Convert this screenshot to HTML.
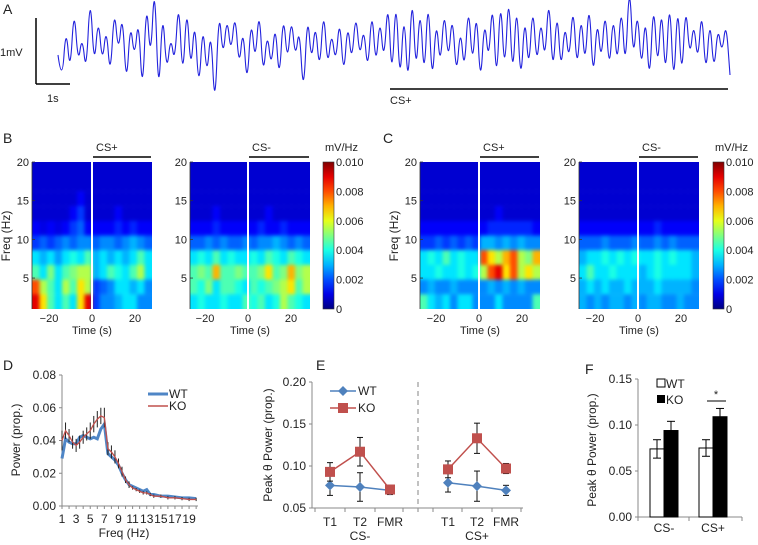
<!DOCTYPE html>
<html><head><meta charset="utf-8">
<style>
html,body{margin:0;padding:0;background:#fff;}
#wrap{position:relative;width:758px;height:545px;overflow:hidden;font-family:"Liberation Sans",Arial,sans-serif;}
.hmw{position:absolute;width:120px;height:147px;overflow:hidden;}
.hmw canvas{position:absolute;left:-8px;top:-8px;filter:blur(1.8px);}
svg{position:absolute;left:0;top:0;}
text{font-family:"Liberation Sans",Arial,sans-serif;fill:#222;}
</style></head>
<body>
<div id="wrap">
<div class="hmw" style="left:32px;top:162px"><canvas id="hmBL" width="136" height="163"></canvas></div>
<div class="hmw" style="left:190px;top:162px"><canvas id="hmBR" width="136" height="163"></canvas></div>
<div class="hmw" style="left:420px;top:162px"><canvas id="hmCL" width="136" height="163"></canvas></div>
<div class="hmw" style="left:579px;top:162px"><canvas id="hmCR" width="136" height="163"></canvas></div>
<svg id="svg" width="758" height="545"></svg>
</div>
<script>
// ---------- data ----------
const traceA = [-10,-40,20,-30,40,-20,10,-30,55,-25,30,-20,20,-35,40,-10,35,-45,25,-15,
30,-55,50,-20,70,-60,40,-30,10,-20,50,-40,45,-30,30,-50,25,-35,20,-70,
40,-15,30,-10,35,-25,20,-45,30,-20,40,-35,15,-25,25,-40,35,-20,30,-15,
20,-55,35,-20,25,-30,40,-25,15,-20,30,-35,25,-20,35,-15,20,-30,40,-25,
30,-20,
50,-40,55,-45,40,-50,60,-35,45,-40,55,-45,30,-25,40,-20,35,-35,20,-30,
45,-25,40,-45,30,-20,50,-45,55,-35,60,-40,50,-45,35,-30,45,-25,30,-20,
55,-35,40,-30,25,-20,45,-30,35,-25,50,-40,30,-20,40,-30,35,-25,45,-30,
70,-20,40,-30,35,-45,50,-30,45,-40,55,-50,50,-40,45,-15,25,-20,40,-35,
30,-30,20,-10,25,-30];

const specBL = [
[0.8,0.8,0.8,0.8,0.8,0.8,0.8,0.8,0.8,0.8,0.8,0.8,0.8,0.8,0.8,0.8],
[0.8,0.8,0.8,0.8,0.8,0.8,0.8,0.8,0.8,0.8,0.8,0.8,0.8,0.8,0.8,0.8],
[0.8,0.8,0.8,0.8,0.8,0.8,1.2,0.8,0.8,0.8,0.8,0.8,0.8,0.8,0.8,0.8],
[0.8,0.8,0.8,0.8,0.8,1.2,1.8,0.8,0.8,0.8,0.8,1.2,0.8,0.8,0.8,0.8],
[1.2,1,1.2,1,1.2,1.8,2.2,1.2,1.2,1.2,1.2,1.6,1.2,1.6,1.2,1.2],
[1.8,2.2,1.8,2.2,2.6,2.2,2.6,2.6,2.2,2.6,2.6,2.2,2.6,3,2.6,2.2],
[3.5,3,3.5,2.8,3.5,4,3.5,4.5,3,3.5,3,3.5,3,3.5,4.5,3.5],
[4.5,3.5,5,3.5,4.5,5,5.5,5.5,3,3.5,4.5,4,3.5,4.5,5.5,3.5],
[8,5.5,4.5,3.5,5.5,4.5,6.5,5.5,1.8,2.2,2.6,3.5,3.5,3,3.5,2.6],
[9,6.5,4.5,3.5,4.5,3.5,6.5,9,1.8,2.6,2.6,3,3.5,3.5,2.6,2.6]];
const specBR = [
[0.8,0.8,0.8,0.8,0.8,0.8,0.8,0.8,0.8,0.8,0.8,0.8,0.8,0.8,0.8,0.8],
[0.8,0.8,0.8,0.8,0.8,0.8,0.8,0.8,0.8,0.8,0.8,0.8,0.8,0.8,0.8,0.8],
[0.8,0.8,0.8,0.8,0.8,0.8,0.8,0.8,0.8,0.8,0.8,0.8,0.8,0.8,0.8,0.8],
[0.8,0.8,0.8,1.2,0.8,0.8,0.8,0.8,0.8,0.8,1.2,0.8,0.8,0.8,0.8,0.8],
[1.2,1.2,1.2,1.6,1.2,1.2,1.2,1.2,1.2,1.6,1.2,1.2,1.6,1.2,1.2,1.2],
[2.2,2.2,2.6,2.2,2.6,2.2,2.2,2.6,2.2,2.6,2.6,3,2.6,2.2,2.6,2.2],
[3.5,4,3.5,4.5,3.5,4,3.5,3.5,4,3.5,4.5,4,3.5,4.5,4,3.5],
[4.5,5,4.5,7,4.5,4.5,5,4.5,4.5,5,6.5,4.5,5,7,5,5.5],
[4.5,4,5,3.5,4.5,4.5,4,3.5,4.5,4,4.5,5,5.5,6.5,4.5,5.5],
[3.5,4,3.5,3.5,4,3.5,3.5,4.5,4,4.5,3.5,4,5.5,4.5,4,3.5]];
const specCL = [
[0.8,0.8,0.8,0.8,0.8,0.8,0.8,0.8,0.8,0.8,0.8,0.8,0.8,0.8,0.8,0.8],
[0.8,0.8,0.8,0.8,0.8,0.8,0.8,0.8,0.8,0.8,0.8,0.8,0.8,0.8,0.8,0.8],
[0.8,0.8,0.8,0.8,0.8,0.8,0.8,0.8,0.8,0.8,0.8,0.8,0.8,0.8,0.8,0.8],
[0.8,0.8,0.8,0.8,0.8,0.8,0.8,0.8,0.8,0.8,1.2,0.8,0.8,0.8,0.8,0.8],
[1.2,1.2,1.2,1.2,1.2,1.2,1.2,1.2,1.2,1.6,1.6,1.6,1.6,1.6,1.6,1.2],
[1.8,1.8,2.2,1.8,2.2,1.8,2.2,1.8,3,3,2.6,3,2.6,3,2.6,2.6],
[3.5,4,3.5,4.5,3.5,4,3.5,3.5,8,6.5,5.5,7,8,5.5,5,7],
[3.5,3.5,4,3.5,3.5,4,3.5,4,5.5,8,9,6.5,8,5.5,6.5,5.5],
[2.6,3,2.6,2.6,3,2.6,2.6,2.6,2.6,3,2.6,3,2.6,3,2.6,2.6],
[4.5,3.5,3,3.5,2.6,3.5,3.5,2.6,2.6,2.6,3.5,2.6,2.6,2.6,2.6,4.5]];
const specCR = [
[0.8,0.8,0.8,0.8,0.8,0.8,0.8,0.8,0.8,0.8,0.8,0.8,0.8,0.8,0.8,0.8],
[0.8,0.8,0.8,0.8,0.8,0.8,0.8,0.8,0.8,0.8,0.8,0.8,0.8,0.8,0.8,0.8],
[0.8,0.8,0.8,0.8,0.8,0.8,0.8,0.8,0.8,0.8,0.8,0.8,0.8,0.8,0.8,0.8],
[0.8,0.8,0.8,0.8,0.8,0.8,0.8,0.8,0.8,0.8,0.8,0.8,0.8,0.8,0.8,0.8],
[1.2,1.2,1.2,1.2,1.2,1.2,1.2,1.2,1.2,1.2,1.6,1.2,1.2,1.2,1.2,1.2],
[2.2,2.2,2.2,2.6,2.2,2.2,2.2,2.6,2.2,2.2,2.6,2.2,2.6,2.2,2.2,2.2],
[3,3.5,3.5,4,3.5,4,3.5,4,3.5,3.5,4,3.5,4,3.5,3.5,3],
[3.5,4.5,3.5,3.5,4,3.5,3.5,3.5,3,3.5,4,3.5,3.5,3.5,3.5,3],
[3,3.5,3,3.5,3,3,3.5,3,3,3,3.5,3,3,3,3,2.6],
[3,2.6,3,2.6,3,3,2.6,3,2.6,3,3,2.6,2.6,3,2.6,2.6]];

const freqD = [1,1.5,2,2.5,3,3.5,4,4.5,5,5.5,6,6.5,7,7.5,8,8.5,9,9.5,10,10.5,11,11.5,12,12.5,13,13.5,14,15,16,17,18,19,20];
const wtD = [0.029,0.041,0.039,0.038,0.038,0.042,0.043,0.042,0.041,0.042,0.041,0.047,0.050,0.032,0.030,0.028,0.025,0.020,0.016,0.013,0.012,0.011,0.010,0.009,0.010,0.007,0.007,0.006,0.006,0.0055,0.005,0.005,0.0045];
const koD = [0.040,0.046,0.043,0.039,0.037,0.039,0.042,0.044,0.046,0.050,0.053,0.055,0.054,0.035,0.033,0.030,0.026,0.021,0.016,0.013,0.011,0.010,0.009,0.008,0.008,0.007,0.006,0.006,0.005,0.005,0.0045,0.004,0.004];
const koErrD = [0.006,0.005,0.004,0.004,0.004,0.004,0.004,0.004,0.005,0.005,0.005,0.005,0.006,0.004,0.004,0.004,0.003,0.003,0.002,0.002,0.001,0.001,0.001,0.001,0.001,0.001,0.001,0.001,0.001,0.001,0.001,0.001,0.001];
const yTicksD = ["0.00","0.02","0.04","0.06","0.08"];
const xTicksD = [1,3,5,7,9,11,13,15,17,19];

const catsE = ["T1","T2","FMR"];
const wtCSm = [0.077,0.075,0.071], wtCSmErr = [0.012,0.017,0.005];
const koCSm = [0.093,0.117,0.072], koCSmErr = [0.011,0.017,0.005];
const wtCSp = [0.080,0.076,0.071], wtCSpErr = [0.011,0.018,0.006];
const koCSp = [0.096,0.133,0.097], koCSpErr = [0.010,0.018,0.006];
const yTicksE = ["0.05","0.10","0.15","0.20"];

const catsF = ["CS-","CS+"];
const wtF = [0.074,0.075], wtFErr = [0.010,0.009];
const koF = [0.094,0.109], koFErr = [0.010,0.009];
const yTicksF = ["0.00","0.05","0.10","0.15"];

// ---------- helpers ----------
const svg = document.getElementById('svg');
const NS = 'http://www.w3.org/2000/svg';
function el(tag, attrs, parent){ const e=document.createElementNS(NS,tag); for(const k in attrs) e.setAttribute(k,attrs[k]); (parent||svg).appendChild(e); return e; }
function txt(x,y,s,size,anchor,name,rot){ const t=el('text',{x:x,y:y,'font-size':size||12,'text-anchor':anchor||'start'}); if(rot) t.setAttribute('transform','rotate(-90 '+x+' '+y+')'); t.textContent=s;


return t; }
function line(x1,y1,x2,y2,stroke,w,name,dash){ const l=el('line',{x1:x1,y1:y1,x2:x2,y2:y2,stroke:stroke,'stroke-width':w||1}); if(dash) l.setAttribute('stroke-dasharray',dash);


return l; }
function jet(v){ v=Math.max(0,Math.min(1,v));
 const r=Math.min(Math.max(Math.min(4*v-1.5,-4*v+4.5),0),1);
 const g=Math.min(Math.max(Math.min(4*v-0.5,-4*v+3.5),0),1);
 const b=Math.min(Math.max(Math.min(4*v+0.5,-4*v+2.5),0),1);
 return 'rgb('+Math.round(r*255)+','+Math.round(g*255)+','+Math.round(b*255)+')'; }

// ---------- Panel A ----------
txt(3,14,'A',14,'start','panel-a-label');
line(36,18,36,84,'#000',1.5,'scale-bar-vertical');
line(36,84,70,84,'#000',1.5,'scale-bar-horizontal');
txt(0,56,'1mV',11,'start','scale-mv-label');
txt(47,102,'1s',11,'start','scale-s-label');
(function(){ const x0=58,x1=730, step=(x1-x0)/(traceA.length-1), yc=45, k=1.0;
 const pts=traceA.map((v,i)=>[x0+i*step, yc-v*k]);
 let d='M'+pts[0][0].toFixed(1)+','+pts[0][1].toFixed(1);
 for(let i=1;i<pts.length-1;i++){ const mx=(pts[i][0]+pts[i+1][0])/2, my=(pts[i][1]+pts[i+1][1])/2;
  d+='Q'+pts[i][0].toFixed(1)+','+pts[i][1].toFixed(1)+' '+mx.toFixed(1)+','+my.toFixed(1); }
 d+='L'+pts[pts.length-1][0].toFixed(1)+','+pts[pts.length-1][1].toFixed(1);
 const p=el('path',{d:d,fill:'none',stroke:'#2222dd','stroke-width':1.1});
 
 
})();
line(390,89,728,89,'#000',1.5,'cs-plus-bar-a');
txt(390,104,'CS+',11,'start','cs-plus-label-a');

// ---------- Spectrograms ----------
function drawHM(id,data){ const c=document.getElementById(id).getContext('2d'); const rows=data.length, cols=data[0].length;
 const cw=120/cols, ch=147/rows, off=8;
 for(let r=-1;r<=rows;r++) for(let j=-1;j<=cols;j++){
  const rr=Math.max(0,Math.min(rows-1,r)), jj=Math.max(0,Math.min(cols-1,j));
  c.fillStyle=jet(data[rr][jj]/10); c.fillRect(off+j*cw,off+r*ch,cw+0.5,ch+0.5); } }
drawHM('hmBL',specBL); drawHM('hmBR',specBR); drawHM('hmCL',specCL); drawHM('hmCR',specCR);
function specAxes(x0,zeroX,showY,barLabel){
 const top=162,bot=309;
 const fy=f=>top+(20-f)*(bot-top)/19;
 [20,15,10,5].forEach(f=>{ txt(x0-3,fy(f)+4,String(f),11,'end','freq-tick'); line(x0,fy(f),x0+3,fy(f),'#333',0.8,'freq-tick-mark'); });
 line(x0,top,x0,bot,'#333',0.8,'freq-axis');
 line(zeroX,top,zeroX,bot,'#fff',2,'stimulus-onset-line');
 const tx=t=>zeroX+t*2.15;
 [-20,0,20].forEach(t=>txt(tx(t),322,t<0?'\u221220':String(t),11,'middle','time-tick'));
 txt(x0+60,334,'Time (s)',11,'middle','time-axis-title');
 if(showY) txt(x0-22,236,'Freq (Hz)',12,'middle','freq-axis-title',true);
 line(zeroX+1,157,x0+119,157,'#000',1.6,'cs-bar');
 txt(zeroX+4,151,barLabel,11,'start','cs-bar-label');
}
txt(3,143,'B',14,'start','panel-b-label');
txt(383,143,'C',14,'start','panel-c-label');
specAxes(32,92,true,'CS+'); specAxes(190,248,false,'CS-');
specAxes(420,479,true,'CS+'); specAxes(579,638,false,'CS-');
function colorbar(x){ const g=el('defs',{}); const lg=el('linearGradient',{id:'cb'+x,x1:0,y1:1,x2:0,y2:0},g);
 for(let i=0;i<=10;i++){ el('stop',{offset:i/10,'stop-color':jet(i/10)},lg); }
 const r=el('rect',{x:x,y:162,width:11,height:147,fill:'url(#cb'+x+')',stroke:'#333','stroke-width':0.6});
 
 
 ['0','0.002','0.004','0.006','0.008','0.010'].forEach((s,i)=>txt(x+13,309-i*29.4+4,s,11,'start','colorbar-tick'));
 txt(x+2,151,'mV/Hz',11,'start','colorbar-unit');
}
colorbar(323); colorbar(713);

// ---------- Panel D ----------
txt(3,370,'D',14,'start','panel-d-label');
(function(){ const x0=62, top=375, bot=506;
 const xs=f=>x0+(f-1)*7.06, ys=v=>bot-v/0.08*(bot-top);
 line(x0,top,x0,bot,'#888',1,'d-y-axis'); line(x0,bot,198,bot,'#888',1,'d-x-axis');
 yTicksD.forEach((s,i)=>{ const y=ys(i*0.02); txt(x0-6,y+4,s,12,'end','d-y-tick'); line(x0-3,y,x0,y,'#888',1,'d-y-tick-mark'); });
 xTicksD.forEach(f=>txt(xs(f),523,String(f),12,'middle','d-x-tick'));
 for(let f=1;f<=20;f++) line(xs(f),bot,xs(f),bot+3,'#888',1,'d-x-tick-mark');
 txt(x0+62,537,'Freq (Hz)',12,'middle','d-x-title');
 txt(20,440,'Power (prop.)',12,'middle','d-y-title',true);
 let dw='',dk='';
 freqD.forEach((f,i)=>{ dw+=(i?'L':'M')+xs(f)+','+ys(wtD[i]); dk+=(i?'L':'M')+xs(f)+','+ys(koD[i]); });
 const pw=el('path',{d:dw,fill:'none',stroke:'#4f86c6','stroke-width':3});
  
 freqD.forEach((f,i)=>line(xs(f),ys(koD[i]-koErrD[i]),xs(f),ys(koD[i]+koErrD[i]),'#222',1,'ko-error-bar'));
 const pk=el('path',{d:dk,fill:'none',stroke:'#c0504d','stroke-width':1.3});
  
 line(148,394,168,394,'#4f86c6',3,'legend-wt-line'); txt(169,398,'WT',12,'start','legend-wt');
 line(148,406,168,406,'#c0504d',1.5,'legend-ko-line'); txt(169,410,'KO',12,'start','legend-ko');
})();

// ---------- Panel E ----------
txt(316,370,'E',14,'start','panel-e-label');
(function(){ const x0=312, top=382, bot=508;
 const ys=v=>bot-(v-0.05)/0.15*(bot-top);
 const xm=[330,360,390], xp=[448,477,506];
 line(x0,top,x0,bot,'#888',1,'e-y-axis'); line(x0,bot,523,bot,'#888',1,'e-x-axis');
 yTicksE.forEach((s,i)=>{ const y=ys(0.05+i*0.05); txt(x0-6,y+4,s,12,'end','e-y-tick'); line(x0-3,y,x0,y,'#888',1,'e-y-tick-mark'); });
 [x0+3,345,375,403,433,462,492,521].forEach(x=>line(x,bot,x,bot+4,'#888',1,'e-x-tick-mark'));
 catsE.forEach((c,i)=>{ txt(xm[i],526,c,12,'middle','e-x-tick'); txt(xp[i],526,c,12,'middle','e-x-tick'); });
 txt(360,540,'CS-',12,'middle','e-group-csminus'); txt(477,540,'CS+',12,'middle','e-group-csplus');
 line(418,382,418,512,'#999',1.2,'e-divider','5,4');
 txt(272,445,'Peak \u03b8 Power (prop.)',12,'middle','e-y-title',true);
 function series(xsArr,vals,errs,color,shape,name){
  let d=''; vals.forEach((v,i)=>{ d+=(i?'L':'M')+xsArr[i]+','+ys(v); });
  const p=el('path',{d:d,fill:'none',stroke:color,'stroke-width':1.5});
   
  vals.forEach((v,i)=>{ const x=xsArr[i];
   line(x,ys(v-errs[i]),x,ys(v+errs[i]),'#111',1,'e-error-bar');
   line(x-3,ys(v-errs[i]),x+3,ys(v-errs[i]),'#111',1,'e-error-cap');
   line(x-3,ys(v+errs[i]),x+3,ys(v+errs[i]),'#111',1,'e-error-cap');
   let m; if(shape==='sq') m=el('rect',{x:x-5,y:ys(v)-5,width:10,height:10,fill:color});
   else m=el('polygon',{points:(x)+','+(ys(v)-5)+' '+(x+5)+','+ys(v)+' '+x+','+(ys(v)+5)+' '+(x-5)+','+ys(v),fill:color});
     });
 }
 series(xm,wtCSm,wtCSmErr,'#4f81bd','dia','wt-csminus');
 series(xm,koCSm,koCSmErr,'#c0504d','sq','ko-csminus');
 series(xp,wtCSp,wtCSpErr,'#4f81bd','dia','wt-csplus');
 series(xp,koCSp,koCSpErr,'#c0504d','sq','ko-csplus');
 line(330,391,356,391,'#4f81bd',1.5,'legend-wt-line');
 const ld=el('polygon',{points:'343,386 348,391 343,396 338,391',fill:'#4f81bd'});  
 txt(358,395,'WT',12,'start','legend-wt');
 line(330,408,356,408,'#c0504d',1.5,'legend-ko-line');
 const ls=el('rect',{x:338,y:403,width:10,height:10,fill:'#c0504d'});  
 txt(358,412,'KO',12,'start','legend-ko');
})();

// ---------- Panel F ----------
txt(585,374,'F',14,'start','panel-f-label');
(function(){ const x0=638, top=379, bot=517;
 const ys=v=>bot-v/0.15*(bot-top);
 const cx=[664,713], bw=14;
 line(x0,top,x0,bot,'#888',1,'f-y-axis'); line(x0,bot,742,bot,'#888',1,'f-x-axis');
 yTicksF.forEach((s,i)=>{ const y=ys(i*0.05); txt(x0-6,y+4,s,12,'end','f-y-tick'); line(x0-3,y,x0,y,'#888',1,'f-y-tick-mark'); });
 [x0,689,742].forEach(x=>line(x,bot,x,bot+4,'#888',1,'f-x-tick-mark'));
 catsF.forEach((c,i)=>txt(cx[i],532,c,12,'middle','f-x-tick'));
 txt(596,450,'Peak \u03b8 Power (prop.)',12,'middle','f-y-title',true);
 function bar(x,v,e,fill,name){
  const r=el('rect',{x:x,y:ys(v),width:bw,height:bot-ys(v),fill:fill,stroke:'#000','stroke-width':1});
   
  const m=x+bw/2;
  line(m,ys(v-e),m,ys(v+e),'#000',1,'f-error-bar');
  line(m-4,ys(v-e),m+4,ys(v-e),'#000',1,'f-error-cap');
  line(m-4,ys(v+e),m+4,ys(v+e),'#000',1,'f-error-cap');
 }
 catsF.forEach((c,i)=>{ bar(cx[i]-bw,wtF[i],wtFErr[i],'#fff','bar-wt-'+i); bar(cx[i],koF[i],koFErr[i],'#000','bar-ko-'+i); });
 const s1=el('rect',{x:657,y:379,width:8,height:8,fill:'#fff',stroke:'#000'});  
 txt(666,388,'WT',12,'start','legend-wt');
 const s2=el('rect',{x:657,y:395,width:8,height:8,fill:'#000'});  
 txt(666,404,'KO',12,'start','legend-ko');
 line(707,401,726,401,'#000',1,'significance-line');
 txt(716,398,'*',11,'middle','significance-star');
})();
</script>
</body></html>
